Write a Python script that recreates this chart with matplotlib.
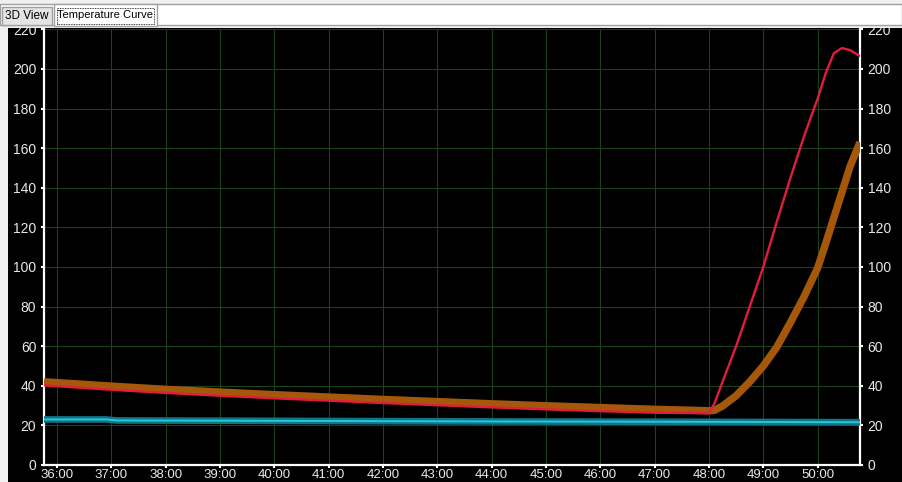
import matplotlib.pyplot as plt
from matplotlib.patches import Rectangle

# time in minutes
t = [35.76, 36.5, 37.0, 38.0, 39.0, 40.0, 41.0, 42.0, 43.0, 44.0, 45.0, 46.0, 47.0, 48.0,
     48.1, 48.25, 48.5, 48.75, 49.0, 49.25, 49.5, 49.75, 50.0, 50.15, 50.3, 50.45, 50.6, 50.78]
orange = [42.0, 40.7, 39.8, 38.2, 36.8, 35.5, 34.3, 33.1, 32.0, 30.9, 29.9, 29.0, 28.1, 27.4,
          27.6, 29.8, 35.0, 42.0, 50.0, 59.6, 72.0, 85.0, 99.5, 112.0, 125.0, 138.0, 151.0, 163.0]
red = [40.2, 38.9, 38.0, 36.4, 35.0, 33.7, 32.5, 31.3, 30.2, 29.1, 28.1, 27.2, 26.4, 26.2,
       31.0, 42.0, 60.0, 80.0, 100.0, 123.0, 145.0, 166.0, 185.0, 198.0, 208.0, 210.6, 209.5, 206.5]
t_cyan = [35.76, 36.9, 37.1, 40.0, 44.0, 48.0, 50.78]
cyan = [23.0, 23.0, 22.5, 22.3, 22.0, 21.8, 21.6]

xticks = list(range(36, 51))
xlabels = ['%d:00' % m for m in xticks]
yticks = list(range(0, 221, 20))

W, H = 902, 482
plt.rcParams['font.family'] = ['Liberation Sans', 'DejaVu Sans']
fig = plt.figure(figsize=(W / 100, H / 100), dpi=100, facecolor='#f0f0f0')

# black panel
fig.patches.append(Rectangle((8 / W, 0), 1, (H - 28) / H, transform=fig.transFigure,
                             facecolor='black', edgecolor='none', zorder=-5))

ax = fig.add_axes([44 / W, (H - 465) / H, (860 - 44) / W, (465 - 29.4) / H])
ax.set_facecolor('black')

ax.plot(t_cyan, cyan, color='#0f7686', lw=4.8, solid_capstyle='butt', zorder=3)
ax.plot(t_cyan, cyan, color='#25c6de', lw=1.4, solid_capstyle='butt', zorder=4)
ax.plot(t, orange, color='#a5580a', lw=5.4, solid_capstyle='butt', zorder=3)
ax.plot(t, red, color='#e21c3e', lw=1.7, zorder=4)

ax.set_xlim(35.76, 50.78)
ax.set_ylim(0, 220)
ax.set_xticks(xticks)
ax.set_xticklabels(xlabels)
ax.set_yticks(yticks)
ax.grid(True, color='#1b431b', lw=0.8)
ax.set_axisbelow(True)

for s in ['left', 'right', 'bottom']:
    ax.spines[s].set_color('white')
    ax.spines[s].set_linewidth(1.6)
ax.spines['top'].set_visible(False)
ax.tick_params(axis='both', colors='white', labelcolor='#e8e8e8', length=2.5, width=1.5,
               labelsize=10, direction='out')
ax.tick_params(axis='y', right=True, labelright=True, pad=3)
ax.tick_params(axis='x', pad=0.5, labelsize=9.5)

# tab strip on top
fig.patches.append(Rectangle((0, (H - 28) / H), 1, 28 / H, transform=fig.transFigure,
                             facecolor='#f0f0f0', edgecolor='none', zorder=10))
fig.patches.append(Rectangle((0, (H - 25) / H), 1, 21 / H, transform=fig.transFigure,
                             facecolor='white', edgecolor='#a0a0a0', lw=1, zorder=11))
fig.patches.append(Rectangle((2 / W, (H - 25) / H), 50 / W, 18 / H, transform=fig.transFigure,
                             facecolor='#e4e4e4', edgecolor='#a0a0a0', lw=1, zorder=12))
fig.patches.append(Rectangle((54 / W, (H - 26) / H), 103 / W, 22 / H, transform=fig.transFigure,
                             facecolor='white', edgecolor='#a0a0a0', lw=1, zorder=12))
fig.patches.append(Rectangle((57 / W, (H - 24) / H), 97 / W, 16 / H, transform=fig.transFigure,
                             facecolor='none', edgecolor='black', lw=0.6, ls=(0, (1, 1)), zorder=13))
fig.text(27 / W, (H - 16) / H, '3D View', ha='center', va='center', fontsize=8.5,
         color='black', zorder=14)
fig.text(105 / W, (H - 15) / H, 'Temperature Curve', ha='center', va='center', fontsize=8,
         color='black', zorder=14)

fig.savefig('out.png', dpi=100, facecolor=fig.get_facecolor())
